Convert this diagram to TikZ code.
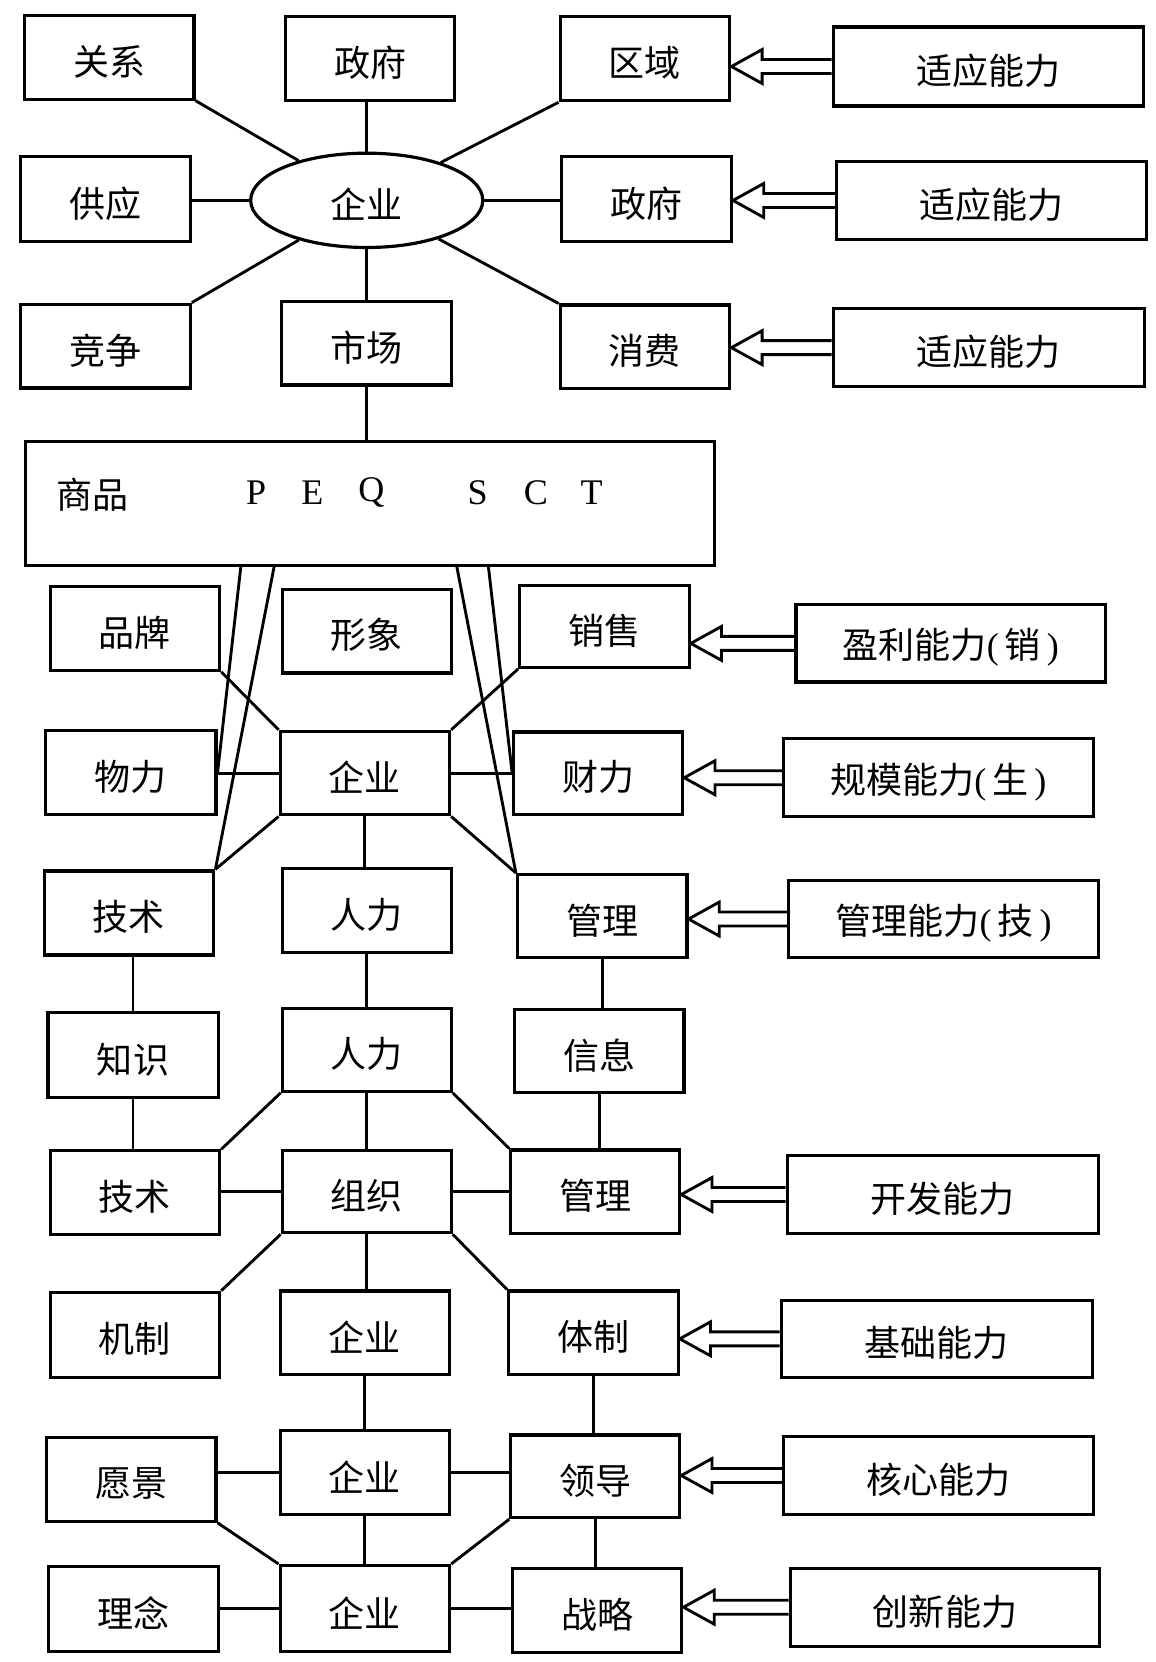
\documentclass[tikz,border=0pt]{standalone}
\usepackage{fontspec}
\setmainfont{Liberation Serif}
\newfontfamily\cjk{Noto Sans CJK SC}
\usetikzlibrary{calc,shapes.geometric}
\tikzset{
  box/.style={draw, line width=3pt, inner sep=0pt, font=\cjk\fontsize{34}{38}\selectfont},
  conn/.style={line width=2.7pt},
  hol/.style={line width=2.7pt, line join=miter},
  lat/.style={inner sep=0pt, font=\rmfamily\fontsize{34}{38}\selectfont},
  cjktext/.style={inner sep=0pt, font=\cjk\fontsize{34}{38}\selectfont},
}
\newcommand\shiftdown[1]{\raisebox{-4pt}[\height][\depth]{#1}}
\newcommand\mybox[6]{\node[box, minimum width={(#4-#2)*1pt}, minimum height={(#5-#3)*1pt}] (#1) at ({(#2+#4)/2},{(#3+#5)/2}) {\shiftdown{#6}};}
\newcommand\harrow[2]{\draw[hol] let \p1=(#1.west), \p2=(#2.east) in
  (\x1,\y1+6.6pt) -- (\x2+29pt,\y1+6.6pt) -- (\x2+29pt,\y1+16pt) -- (\x2,\y1)
  -- (\x2+29pt,\y1-16pt) -- (\x2+29pt,\y1-6.6pt) -- (\x1,\y1-6.6pt);}
\newcommand\pr[1]{{\rmfamily#1}}
\begin{document}
\begin{tikzpicture}[x=1pt,y=-1pt]
\useasboundingbox (0,0) rectangle (1090,1568);
% top star
\mybox{guanxi}{23}{14.5}{183}{93.5}{关系}
\mybox{zhengfu1}{269.5}{15.7}{429}{95}{政府}
\mybox{quyu}{528.5}{15.7}{688.5}{95}{区域}
\mybox{sy1}{786}{25.5}{1078.5}{100}{适应能力}
\node[draw, ellipse, line width=3pt, inner sep=0pt, minimum width=219pt, minimum height=89pt, font=\cjk\fontsize{34}{38}\selectfont] (ell) at (346,189) {\shiftdown{企业}};
\mybox{gongying}{19}{148}{179.5}{228}{供应}
\mybox{zhengfu2}{530}{148}{690}{228}{政府}
\mybox{sy2}{789.4}{152.6}{1081.4}{225.6}{适应能力}
\mybox{jingzheng}{19}{287}{179.5}{366}{竞争}
\mybox{shichang}{265.7}{284.7}{425.6}{363.3}{市场}
\mybox{xiaofei}{528.5}{287.8}{688.5}{366.5}{消费}
\mybox{sy3}{786}{291}{1079.5}{365}{适应能力}
\draw[conn] (ell) -- (guanxi.south east);
\draw[conn] (ell.north) -- (ell.north |- zhengfu1.south);
\draw[conn] (ell) -- (quyu.south west);
\draw[conn] (ell.west) -- (ell.west -| gongying.east);
\draw[conn] (ell.east) -- (ell.east -| zhengfu2.west);
\draw[conn] (ell) -- (jingzheng.north east);
\draw[conn] (ell.south) -- (ell.south |- shichang.north);
\draw[conn] (ell) -- (xiaofei.north west);
\harrow{sy1}{quyu}
\harrow{sy2}{zhengfu2}
\harrow{sy3}{xiaofei}
% goods box
\mybox{goods}{24}{416.8}{673.9}{533.2}{}
\draw[conn] (shichang.south) -- (shichang.south |- goods.north);
\node[cjktext] (spt) at (87,467) {商品};
\node[lat] (lp) at (241.6,465) {P};
\node[lat] (le) at (294.8,465) {E};
\node[lat] (lq) at (350.4,465) {Q};
\node[lat] (ls) at (450.7,465) {S};
\node[lat] (lc) at (505.5,465) {C};
\node[lat] (lt) at (558.1,465) {T};
% middle
\mybox{pinpai}{47.3}{553.1}{207.2}{632.3}{品牌}
\mybox{xingxiang}{266.3}{555.8}{425.6}{635}{形象}
\mybox{xiaoshou}{490.3}{552.1}{650.2}{629.6}{销售}
\mybox{yingli}{751}{570.6}{1043}{643.4}{盈利能力\pr{(}\,销\,\pr{)}}
\mybox{wuli}{43.1}{688.9}{203.8}{768.1}{物力}
\mybox{qiye1}{264.3}{690}{424.2}{768.8}{企业}
\mybox{caili}{484.7}{690.6}{644}{768.1}{财力}
\mybox{guimo}{739.2}{697}{1031.3}{770.5}{规模能力\pr{(}\,生\,\pr{)}}
\mybox{jishu1}{41.7}{821.7}{201.7}{900.9}{技术}
\mybox{renli1}{266.3}{819.4}{425.6}{898.6}{人力}
\mybox{guanli1}{488.2}{825.1}{648.1}{903.6}{管理}
\mybox{guanlinl}{744.1}{830.5}{1036.2}{903.6}{管理能力\pr{(}\,技\,\pr{)}}
\draw[conn] (227.2,0 |- goods.south) -- (wuli.east);
\draw[conn] (258.6,0 |- goods.south) -- (jishu1.north east);
\draw[conn] (431,0 |- goods.south) -- (guanli1.north west);
\draw[conn] (460.8,0 |- goods.south) -- (caili.west);
\draw[conn] (pinpai.south east) -- (qiye1.north west);
\draw[conn] (xiaoshou.south west) -- (qiye1.north east);
\draw[conn] (qiye1.south west) -- (jishu1.north east);
\draw[conn] (qiye1.south east) -- (guanli1.north west);
\draw[conn] (qiye1.west) -- (qiye1.west -| wuli.east);
\draw[conn] (qiye1.east) -- (qiye1.east -| caili.west);
\draw[conn] (qiye1.south) -- (qiye1.south |- renli1.north);
\harrow{yingli}{xiaoshou}
\harrow{guimo}{caili}
\harrow{guanlinl}{guanli1}
% lower
\mybox{zhishi}{45.2}{955.6}{205.8}{1035.7}{知识}
\mybox{renli2}{266.3}{951.6}{425.6}{1029.5}{人力}
\mybox{xinxi}{485.4}{952.3}{645.3}{1030.8}{信息}
\mybox{jishu2}{47.3}{1085.8}{207.2}{1165}{技术}
\mybox{zuzhi}{266.3}{1085.8}{425.6}{1163}{组织}
\mybox{guanli2}{481.9}{1085}{641.2}{1163.9}{管理}
\mybox{kaifa}{742.7}{1090}{1036.2}{1163.9}{开发能力}
\mybox{jizhi}{47.3}{1219.2}{207.2}{1299.3}{机制}
\mybox{qiye2}{264.3}{1218}{424.2}{1297}{企业}
\mybox{tizhi}{479.8}{1218}{639.8}{1297}{体制}
\mybox{jichu}{737.1}{1226.6}{1030.6}{1299.6}{基础能力}
\mybox{yuanjing}{43.8}{1355.9}{203.8}{1435.2}{愿景}
\mybox{qiye3}{264.3}{1349.7}{424.2}{1428.9}{企业}
\mybox{lingdao}{481.9}{1353.8}{641.2}{1431.8}{领导}
\mybox{hexin}{739.2}{1355.2}{1031.3}{1428.9}{核心能力}
\mybox{linian}{45.9}{1478}{205.8}{1558}{理念}
\mybox{qiye4}{264.3}{1477}{424.2}{1558}{企业}
\mybox{zhanlue}{483.3}{1480}{643.3}{1559}{战略}
\mybox{chuangxin}{745.5}{1479.6}{1037.6}{1553}{创新能力}
\draw[conn] (zhishi.north) -- (zhishi.north |- jishu1.south);
\draw[conn] (renli1.south) -- (renli1.south |- renli2.north);
\draw[conn] (guanli1.south) -- (guanli1.south |- xinxi.north);
\draw[conn] (zhishi.south) -- (zhishi.south |- jishu2.north);
\draw[conn] (renli2.south west) -- (jishu2.north east);
\draw[conn] (renli2.south) -- (renli2.south |- zuzhi.north);
\draw[conn] (renli2.south east) -- (guanli2.north west);
\draw[conn] (xinxi.south) -- (xinxi.south |- guanli2.north);
\draw[conn] (zuzhi.west) -- (zuzhi.west -| jishu2.east);
\draw[conn] (zuzhi.east) -- (zuzhi.east -| guanli2.west);
\draw[conn] (zuzhi.south west) -- (jizhi.north east);
\draw[conn] (zuzhi.south) -- (zuzhi.south |- qiye2.north);
\draw[conn] (zuzhi.south east) -- (tizhi.north west);
\draw[conn] (qiye2.south) -- (qiye2.south |- qiye3.north);
\draw[conn] (tizhi.south) -- (tizhi.south |- lingdao.north);
\draw[conn] (qiye3.west) -- (qiye3.west -| yuanjing.east);
\draw[conn] (qiye3.east) -- (qiye3.east -| lingdao.west);
\draw[conn] (yuanjing.south east) -- (qiye4.north west);
\draw[conn] (qiye3.south) -- (qiye3.south |- qiye4.north);
\draw[conn] (lingdao.south west) -- (qiye4.north east);
\draw[conn] (lingdao.south) -- (lingdao.south |- zhanlue.north);
\draw[conn] (qiye4.west) -- (qiye4.west -| linian.east);
\draw[conn] (qiye4.east) -- (qiye4.east -| zhanlue.west);
\harrow{kaifa}{guanli2}
\harrow{jichu}{tizhi}
\harrow{hexin}{lingdao}
\harrow{chuangxin}{zhanlue}
\end{tikzpicture}
\end{document}
